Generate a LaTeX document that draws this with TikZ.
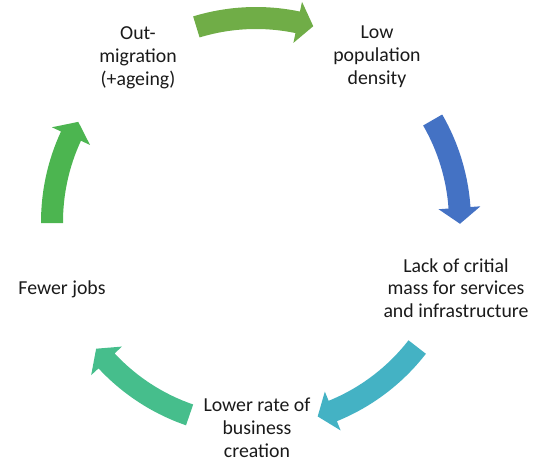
\documentclass[tikz,border=0pt]{standalone}
\usepackage{fontspec}
\setmainfont{Carlito}
\usetikzlibrary{calc}
\definecolor{arrowA}{HTML}{70AD47}
\definecolor{arrowB}{HTML}{4472C4}
\definecolor{arrowC}{HTML}{44B2C4}
\definecolor{arrowD}{HTML}{46BE8C}
\definecolor{arrowE}{HTML}{4CB550}
\definecolor{labeltext}{HTML}{1A1A1A}

% Curved block arrow running clockwise round (c):
% #1 colour, #2 tail angle, #3 tip angle
\newcommand\cyclearrow[3]{%
  \pgfmathsetmacro\headbase{#3+4.5}%
  \fill[#1]
    ($(c)+(#2:215)$) arc[start angle=#2, end angle=\headbase, radius=215]
    -- ($(c)+(\headbase:225)$)
    -- ($(c)+(#3:204)$)
    -- ($(c)+(\headbase:183)$)
    -- ($(c)+(\headbase:193)$) arc[start angle=\headbase, end angle=#2, radius=193]
    -- cycle;%
}

\begin{document}
\begin{tikzpicture}[x=1pt,y=1pt,
  steplabel/.style={align=center, font=\fontsize{19.8}{22.8}\selectfont,
    text=labeltext, inner sep=0pt}]
\useasboundingbox (0,0) rectangle (538,459);
\coordinate (c) at (256,237);

% cycle arrows
\cyclearrow{arrowA}{107}{73.7}
\cyclearrow{arrowB}{30}{-0.5}
\cyclearrow{arrowC}{-37.8}{-72.4}
\cyclearrow{arrowD}{251}{218.4}
\cyclearrow{arrowE}{180.3}{150.6}

% stages of the cycle
\node[steplabel] (outmig) at (138,401) {Out-\\migration\\(+ageing)};
\node[steplabel] (lowpop) at (377,402) {Low\\population\\density};
\node[steplabel] (lack)   at (456,171) {Lack of critial\\mass for services\\and infrastructure};
\node[steplabel] (lower)  at (257,31)  {Lower rate of\\business\\creation};
\node[steplabel] (fewer)  at (62,170)  {Fewer jobs};
\end{tikzpicture}
\end{document}
